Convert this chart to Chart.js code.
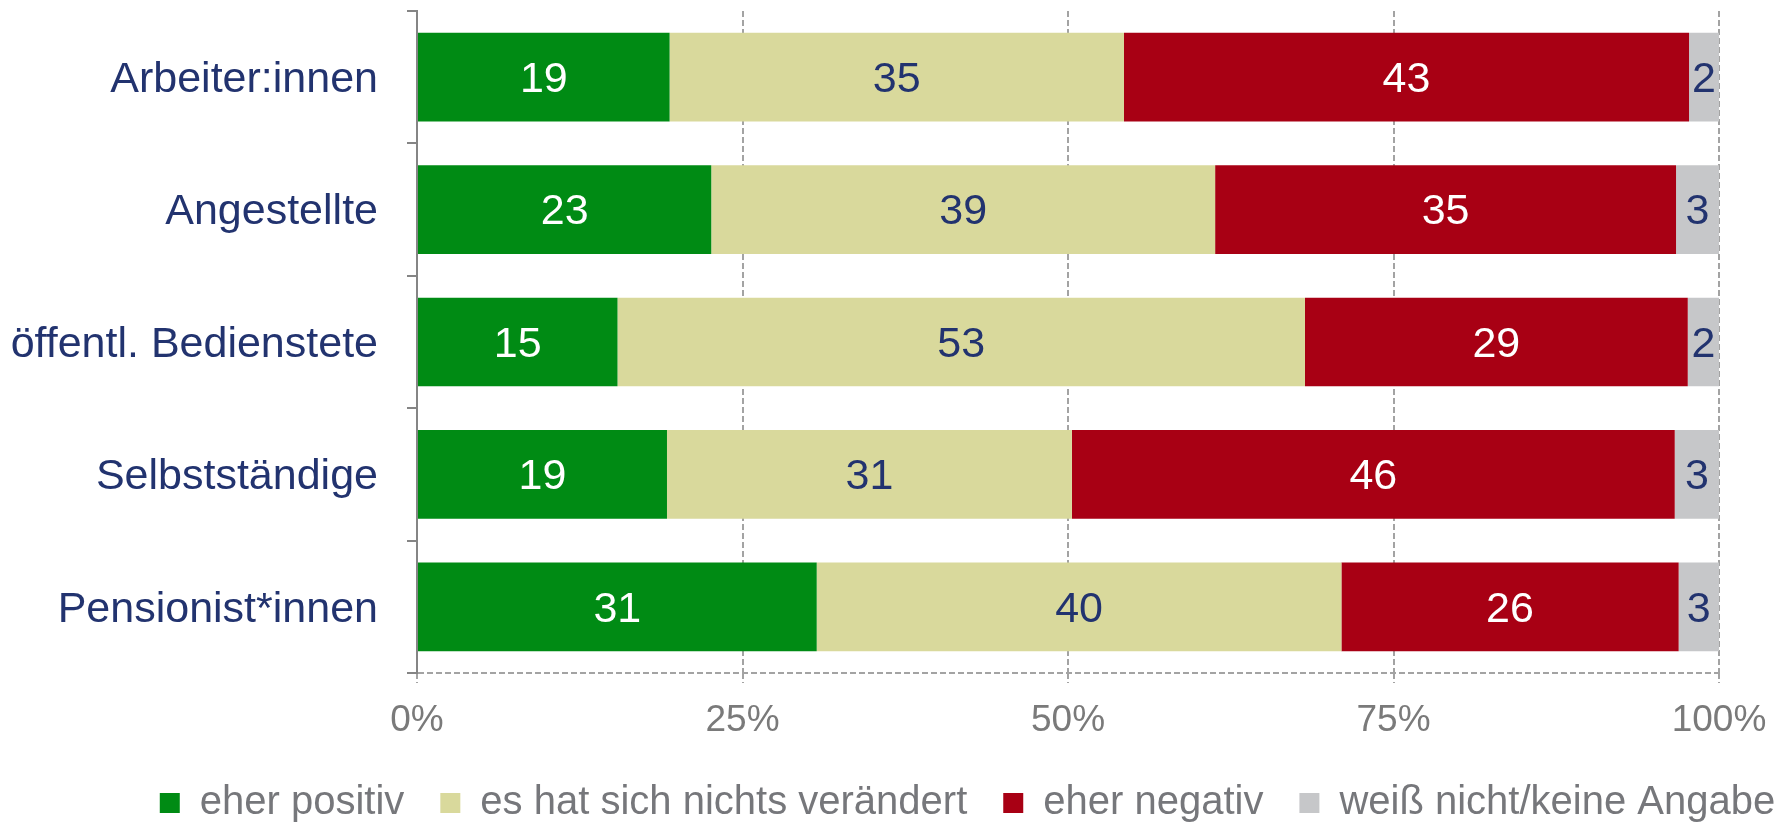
<!DOCTYPE html>
<html>
<head>
<meta charset="utf-8">
<script src="https://cdn.jsdelivr.net/npm/chart.js@4.4.1/dist/chart.umd.min.js"></script>
<style>
  html, body { margin: 0; padding: 0; background: #ffffff; overflow: hidden; }
  #wrap { position: relative; width: 1783px; height: 833px; }
</style>
</head>
<body>
<div id="wrap"><canvas id="c"></canvas></div>
<script>
const categories = ["Arbeiter:innen", "Angestellte", "öffentl. Bedienstete", "Selbstständige", "Pensionist*innen"];
const seriesNames = ["eher positiv", "es hat sich nichts verändert", "eher negativ", "weiß nicht/keine Angabe"];
const eherPositiv = [19.4, 22.6, 15.4, 19.2, 30.7];
const nichtsVeraendert = [34.9, 38.7, 52.8, 31.1, 40.3];
const eherNegativ = [43.4, 35.4, 29.4, 46.3, 25.9];
const weissNicht = [2.3, 3.3, 2.4, 3.4, 3.1];
const xTicks = [0, 25, 50, 75, 100];

const FONT = "'Liberation Sans', Arial, sans-serif";
const NAVY = "#22336f";
const colors = ["#008b14", "#d9d99c", "#a80014", "#c6c7c9"];
const labelColors = ["#ffffff", NAVY, "#ffffff", NAVY];
const GRID = "#a3a3a3";
const AXIS = "#858585";
const LEGEND_SHIFT = 76;

const valueLabels = {
  id: "valueLabels",
  afterDatasetsDraw(chart) {
    const ctx = chart.ctx;
    ctx.save();
    ctx.font = "43px " + FONT;
    ctx.textAlign = "center";
    ctx.textBaseline = "middle";
    chart.data.datasets.forEach((ds, di) => {
      const meta = chart.getDatasetMeta(di);
      meta.data.forEach((el, i) => {
        const p = el.getCenterPoint();
        ctx.fillStyle = labelColors[di];
        ctx.fillText(String(Math.round(ds.data[i])), p.x, p.y + 3);
      });
    });
    ctx.restore();
  }
};

const legendShift = {
  id: "legendShift",
  afterLayout(chart) {
    if (chart.legend) {
      chart.legend.left += LEGEND_SHIFT;
      chart.legend.right += LEGEND_SHIFT;
    }
  }
};

const seriesData = [eherPositiv, nichtsVeraendert, eherNegativ, weissNicht];

new Chart(document.getElementById("c"), {
  type: "bar",
  data: {
    labels: categories,
    datasets: seriesNames.map((n, i) => ({
      label: n,
      data: seriesData[i],
      backgroundColor: colors[i],
      borderWidth: 0,
      barPercentage: 0.67,
      categoryPercentage: 1.0
    }))
  },
  options: {
    indexAxis: "y",
    responsive: true,
    maintainAspectRatio: false,
    animation: false,
    layout: { padding: { left: 0, right: 0, top: 11, bottom: 0 } },
    plugins: {
      tooltip: { enabled: false },
      legend: {
        position: "bottom",
        labels: {
          font: { family: FONT, size: 40 },
          color: "#76777b",
          boxWidth: 20,
          boxHeight: 20,
          padding: 36
        }
      }
    },
    scales: {
      x: {
        stacked: true,
        min: 0,
        max: 100,
        afterBuildTicks(scale) { scale.ticks = xTicks.map(v => ({ value: v })); },
        afterFit(scale) {
          scale.height = 74;
          scale.paddingLeft = 0;
          scale.paddingRight = 64;
        },
        ticks: {
          color: "#7a7a7a",
          font: { family: FONT, size: 37 },
          padding: 16,
          callback: v => v + "%"
        },
        grid: {
          color: GRID,
          lineWidth: 2,
          tickLength: 10,
          tickColor: GRID,
          tickWidth: 2,
          tickBorderDash: [6, 3]
        },
        border: { display: false, dash: [6, 3] }
      },
      y: {
        stacked: true,
        afterFit(scale) {
          scale.width = 417;
          scale.paddingTop = 0;
          scale.paddingBottom = 0;
        },
        ticks: {
          color: NAVY,
          font: { family: FONT, size: 43 },
          padding: 29,
          labelOffset: 3
        },
        grid: {
          color: ctx => ctx.tick ? "rgba(0,0,0,0)" : GRID,
          lineWidth: 2,
          tickLength: 10,
          tickColor: AXIS,
          tickWidth: 2
        },
        border: { display: true, color: AXIS, width: 2, dash: [6, 3] }
      }
    }
  },
  plugins: [valueLabels, legendShift]
});
</script>
</body>
</html>
